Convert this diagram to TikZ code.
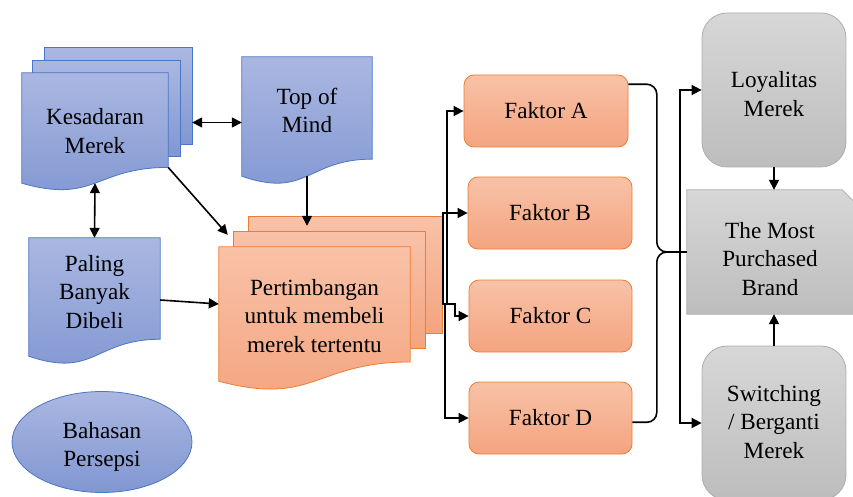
\documentclass[tikz,border=0pt]{standalone}
\usepackage{fontspec}
\setmainfont{Liberation Serif}
\usetikzlibrary{arrows.meta,calc,shapes.geometric}
\pgfdeclarelayer{background}
\pgfsetlayers{background,main}

\definecolor{bluetop}{HTML}{AAB7E1}
\definecolor{bluebot}{HTML}{8197D2}
\definecolor{blueline}{HTML}{4A76C6}
\definecolor{orangetop}{HTML}{F8C2A8}
\definecolor{orangebot}{HTML}{F4A47F}
\definecolor{orangeline}{HTML}{ED7D31}
\definecolor{graytop}{HTML}{D7D7D7}
\definecolor{graybot}{HTML}{BDBDBD}
\definecolor{grayline}{HTML}{ADADAD}

\tikzset{
  lbl/.style={align=center, inner sep=0pt, font=\fontsize{23.2}{28.5}\selectfont},
  blueshape/.style={draw=blueline, line width=0.8pt, top color=bluetop, bottom color=bluebot},
  orangeshape/.style={draw=orangeline, line width=0.8pt, top color=orangetop, bottom color=orangebot},
  grayshape/.style={draw=grayline, line width=0.8pt, top color=graytop, bottom color=graybot},
  factor/.style={lbl, orangeshape, rounded corners=10pt, minimum width=163pt, minimum height=72pt},
  grayround/.style={lbl, grayshape, rounded corners=25pt, minimum width=144pt, minimum height=154pt},
  link/.style={line width=1.6pt, -{Triangle[length=10pt,width=10pt]}},
  dlink/.style={link, {Triangle[length=10pt,width=10pt]}-{Triangle[length=10pt,width=10pt]}},
  bond/.style={line width=1.6pt, rounded corners=10pt},
}

\newcommand{\docpath}[1]{(#1.north west) -- (#1.north east)
  -- ($(#1.north east)!0.857!(#1.south east)$)
  .. controls ($(#1.north)!0.857!(#1.south)$) and ($(#1.north)!1.19!(#1.south)$) .. (#1.south west) -- cycle}

\begin{document}
\begin{tikzpicture}[x=1pt, y=-1pt]
\useasboundingbox (0,0) rectangle (853,497);

\node[lbl, minimum width=147pt, minimum height=96pt] (kes3) at (118.5,96) {};
\node[lbl, minimum width=147pt, minimum height=95pt] (kes2) at (106.5,108.5) {};
\node[lbl, minimum width=146pt, minimum height=110pt] (kes) at (95,128) {};
\node[lbl, minimum width=130pt, minimum height=119pt] (tom) at (307,116.5) {};
\node[lbl, minimum width=131pt, minimum height=118pt] (pal) at (94.5,297) {};
\node[lbl, minimum width=193pt, minimum height=116pt] (per3) at (345.5,275) {};
\node[lbl, minimum width=191pt, minimum height=116pt] (per2) at (329.5,290) {};
\node[lbl, minimum width=191pt, minimum height=134pt] (per) at (314.5,314) {};
\node[lbl, ellipse, blueshape, minimum width=180pt, minimum height=101pt] (bah) at (102,442) {};

\node[lbl] (kes-t) at ([yshift=-3pt]kes) {Kesadaran\\Merek};
\node[lbl] (tom-t) at ([yshift=6pt]tom) {Top of\\Mind};
\node[lbl] (pal-t) at ([yshift=5pt]pal) {Paling\\Banyak\\Dibeli};
\node[lbl] (per-t) at ([yshift=-2pt]per) {Pertimbangan\\untuk membeli\\merek tertentu};
\node[lbl] (bah-t) at ([yshift=-5pt]bah) {Bahasan\\Persepsi};

\node[factor, minimum width=164pt] (fa) at (546,111) {Faktor A};
\node[factor, minimum width=164pt] (fb) at (550,213) {Faktor B};
\node[factor] (fc) at (550.5,316) {Faktor C};
\node[factor] (fd) at (550.5,418) {Faktor D};

\node[grayround] (loy) at (774,90) {};
\node[lbl, minimum width=166pt, minimum height=124pt] (mp) at (770,252) {};
\node[grayround] (sw) at (774,423) {};

\node[lbl] (loy-t) at ([yshift=-4pt]loy) {Loyalitas\\Merek};
\node[lbl] (mp-t) at ([yshift=-7pt]mp) {The Most\\Purchased\\Brand};
\node[lbl] (sw-t) at ([yshift=1pt]sw) {Switching\\/ Berganti\\Merek};

\begin{pgfonlayer}{background}
\draw[blueshape] (kes3.north west) rectangle (kes3.south east);
\draw[blueshape] (kes2.north west) rectangle (kes2.south east);
\draw[blueshape] \docpath{kes};
\draw[blueshape] \docpath{tom};
\draw[blueshape] \docpath{pal};
\draw[orangeshape] (per3.north west) rectangle (per3.south east);
\draw[orangeshape] (per2.north west) rectangle (per2.south east);
\draw[orangeshape] \docpath{per};
\draw[grayshape] (mp.north west) -- ([xshift=-11pt]mp.north east) -- ([xshift=20pt,yshift=-31pt]mp.north east) |- (mp.south west) -- cycle;
\end{pgfonlayer}

\coordinate (kt) at ([yshift=-6pt]tom.west);
\draw[dlink] (kes3.east |- kt) -- (kt);
\draw[dlink] (kes.south) -- (pal.north);
\draw[link] ($(kes.north east)!0.857!(kes.south east)$) -- ([xshift=-6pt,yshift=-3pt]per2.north west);
\draw[link, shorten >=-9pt] (tom.south) -- (tom.south |- per3.north);
\draw[link] ([yshift=-3pt]pal.east) -- ([yshift=10pt]per.west);

\coordinate (pout) at ([yshift=-29pt]per3.east);
\draw[link] (pout) -- ++(5,0) |- (fa.west);
\draw[link] (pout) -- ++(1,0) |- (fb.west);
\draw[link] (pout) -- ++(13,0) |- (fc.west);
\draw[link] (pout) -- ++(3,0) |- (fd.west);

\draw[bond] (fa.18) -| ([xshift=-30pt]mp.west) -- (mp.west);
\draw[bond] (fd.-3) -| ([xshift=-30pt]mp.west) -- (mp.west);
\draw[link] (mp.west) -- ++(-7,0) |- (loy.west);
\draw[link] (mp.west) -- ++(-7,0) |- (sw.west);
\draw[link] (loy.south) -- (loy.south |- mp.north);
\draw[link] (sw.north) -- (sw.north |- mp.south);
\end{tikzpicture}
\end{document}
